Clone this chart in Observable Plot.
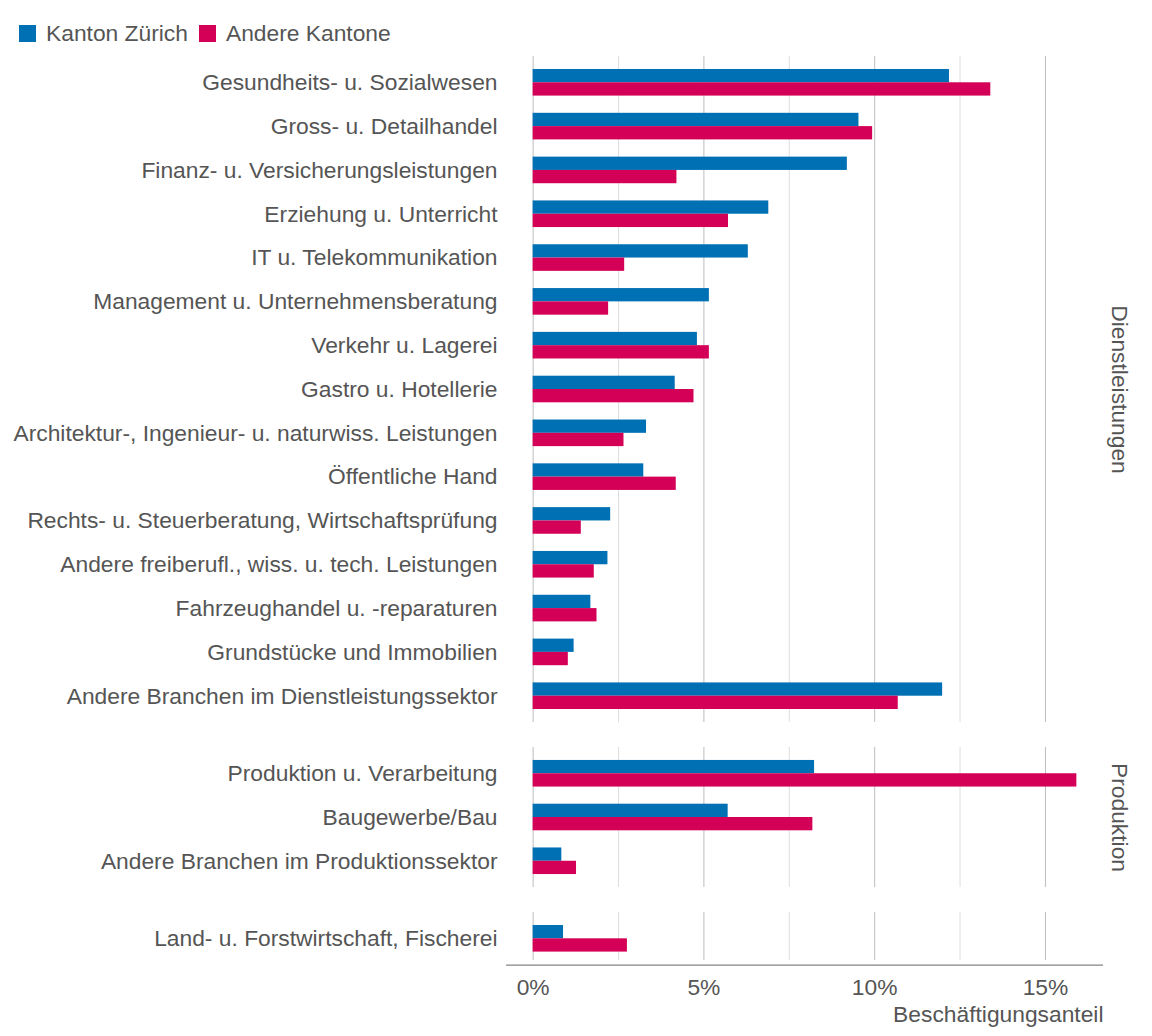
<!DOCTYPE html>
<html><head><meta charset="utf-8">
<script src="https://cdn.jsdelivr.net/npm/d3@7"></script>
<script src="https://cdn.jsdelivr.net/npm/@observablehq/plot@0.6"></script>
<style>
body{margin:0;background:#fff;font-family:"Liberation Sans",Arial,sans-serif;color:#555;}
#root{position:relative;width:1152px;height:1036px;overflow:hidden;}
.legend{position:absolute;left:19px;top:21px;display:flex;align-items:center;font-size:22.8px;line-height:24px;}
.item{display:flex;align-items:center;margin-right:11px;}
.sw{display:inline-block;width:17px;height:17px;margin-right:10px;}
.panel{position:absolute;left:0;line-height:0;}
</style></head><body><div id="root"></div>
<script>
const seriesNames = ["Kanton Zürich", "Andere Kantone"];
const seriesColors = ["#0070b4", "#d40057"];
const sectors = ["Dienstleistungen", "Produktion", ""];

const dienstCategories = [
  "Gesundheits- u. Sozialwesen",
  "Gross- u. Detailhandel",
  "Finanz- u. Versicherungsleistungen",
  "Erziehung u. Unterricht",
  "IT u. Telekommunikation",
  "Management u. Unternehmensberatung",
  "Verkehr u. Lagerei",
  "Gastro u. Hotellerie",
  "Architektur-, Ingenieur- u. naturwiss. Leistungen",
  "Öffentliche Hand",
  "Rechts- u. Steuerberatung, Wirtschaftsprüfung",
  "Andere freiberufl., wiss. u. tech. Leistungen",
  "Fahrzeughandel u. -reparaturen",
  "Grundstücke und Immobilien",
  "Andere Branchen im Dienstleistungssektor"
];
const dienstZH =     [12.19, 9.54, 9.20, 6.90, 6.30, 5.16, 4.81, 4.16, 3.32, 3.24, 2.27, 2.19, 1.69, 1.20, 11.99];
const dienstAndere = [13.40, 9.94, 4.21, 5.72, 2.68, 2.21, 5.16, 4.71, 2.66, 4.19, 1.41, 1.79, 1.87, 1.03, 10.69];

const prodCategories = [
  "Produktion u. Verarbeitung",
  "Baugewerbe/Bau",
  "Andere Branchen im Produktionssektor"
];
const prodZH =     [8.24, 5.71, 0.84];
const prodAndere = [15.92, 8.19, 1.27];

const landCategories = ["Land- u. Forstwirtschaft, Fischerei"];
const landZH = [0.89];
const landAndere = [2.76];

const majorTicks = [0, 5, 10, 15];
const minorTicks = [2.5, 7.5, 12.5];
const axisLabel = ["Beschäftigungsanteil"];

const FONT = '"Liberation Sans", Arial, sans-serif';
const FS = 22.8;
const root = document.getElementById("root");

// legend
const leg = document.createElement("div");
leg.className = "legend";
seriesNames.forEach((n, i) => {
  const it = document.createElement("div");
  it.className = "item";
  const sw = document.createElement("span");
  sw.className = "sw";
  sw.style.background = seriesColors[i];
  const tx = document.createElement("span");
  tx.textContent = n;
  it.appendChild(sw); it.appendChild(tx);
  leg.appendChild(it);
});
root.appendChild(leg);

function makePanel(cats, zh, other, sector, top, panelH, withAxis) {
  const marginBottom = withAxis ? 71.4 : 0;
  const step = panelH / (cats.length + 0.2);
  const barH = 13.3;
  const rowsZH = cats.map((c, i) => ({cat: c, series: seriesNames[0], value: zh[i]}));
  const rowsOther = cats.map((c, i) => ({cat: c, series: seriesNames[1], value: other[i]}));
  const gridInset = withAxis ? 4.5 : 0;
  const marks = [
    Plot.ruleX(minorTicks, {stroke: "#dedede", strokeWidth: 1, insetBottom: gridInset}),
    Plot.ruleX(majorTicks, {stroke: "#bdbdbd", strokeWidth: 1, insetBottom: gridInset}),
    Plot.barX(rowsZH, {x: "value", y: "cat", fill: "series", insetTop: step / 2 - barH, insetBottom: step / 2}),
    Plot.barX(rowsOther, {x: "value", y: "cat", fill: "series", insetTop: step / 2, insetBottom: step / 2 - barH}),
    Plot.axisY({tickSize: 0, tickPadding: 9, label: null, fontSize: FS}),
    Plot.text([sector], {text: d => d, frameAnchor: "right", dx: 16, rotate: 90, textAnchor: "middle", lineAnchor: "middle", fill: "#555", fontSize: FS})
  ];
  if (withAxis) {
    marks.push(Plot.ruleY(cats.slice(-1), {y: d => d, dy: 0.6 * step, stroke: "#666", strokeWidth: 1}));
    marks.push(Plot.axisX(majorTicks, {tickSize: 0, tickPadding: 14, tickFormat: d => d + "%", label: null, fontSize: FS}));
    marks.push(Plot.text(axisLabel, {text: d => d, frameAnchor: "bottom-right", textAnchor: "end", lineAnchor: "middle", dy: 50, fill: "#555", fontSize: FS}));
  }
  const svg = Plot.plot({
    width: 1152,
    height: panelH + marginBottom,
    marginLeft: 506, marginRight: 49, marginTop: 0, marginBottom,
    style: {fontFamily: FONT, fontSize: FS + "px", color: "#555", background: "transparent", overflow: "visible"},
    x: {domain: [-0.78, 16.7], axis: null},
    y: {domain: cats, paddingInner: 0, paddingOuter: 0.1, round: false, axis: null},
    color: {domain: seriesNames, range: seriesColors},
    marks
  });
  const wrap = document.createElement("div");
  wrap.className = "panel";
  wrap.style.top = top + "px";
  wrap.appendChild(svg);
  root.appendChild(wrap);
}

makePanel(dienstCategories, dienstZH, dienstAndere, sectors[0], 56, 666, false);
makePanel(prodCategories, prodZH, prodAndere, sectors[1], 747, 140, false);
makePanel(landCategories, landZH, landAndere, sectors[2], 912, 52.6, true);
</script>
</body></html>
